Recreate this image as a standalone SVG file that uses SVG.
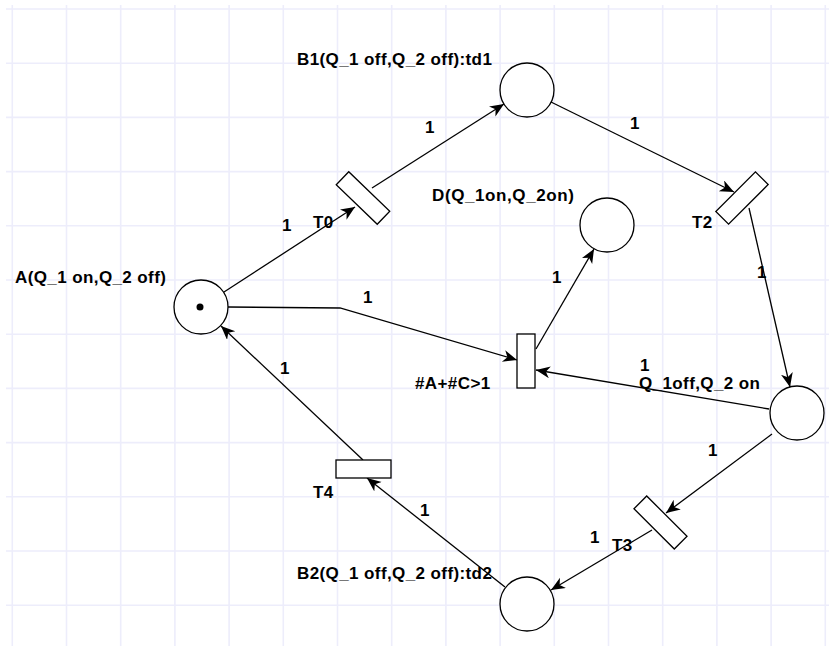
<svg xmlns="http://www.w3.org/2000/svg" width="829" height="646" viewBox="0 0 829 646">
<style>
.grid{stroke:#ededfb;stroke-width:1.6;fill:none}
.node{fill:#fff;stroke:#000;stroke-width:1.3}
.edge{fill:none;stroke:#000;stroke-width:1.3}
text{font-family:"Liberation Sans",Arial,sans-serif;font-weight:bold;font-size:17px;fill:#000;letter-spacing:0.4px}
.w{text-anchor:middle}
</style>
<defs>
<marker id="arr" markerUnits="userSpaceOnUse" markerWidth="16" markerHeight="14" refX="14" refY="6" orient="auto">
<path d="M0,0 L14,6 L0,12 L4,6 Z" fill="#000"/>
</marker>
</defs>
<rect width="829" height="646" fill="#fff"/>
<path class="grid" d="M12.3,5V646M66.5,5V646M120.7,5V646M174.9,5V646M229.1,5V646M283.3,5V646M337.5,5V646M391.7,5V646M445.9,5V646M500.1,5V646M554.3,5V646M608.5,5V646M662.7,5V646M716.9,5V646M771.1,5V646M825.3,5V646M6,9H829M6,63.2H829M6,117.4H829M6,171.6H829M6,225.8H829M6,280H829M6,334.2H829M6,388.4H829M6,442.6H829M6,496.8H829M6,551H829M6,605.2H829"/>
<g id="connectors">
<path class="edge" marker-end="url(#arr)" d="M224,292 L355,207"/>
<path class="edge" marker-end="url(#arr)" d="M372,188 L504,104"/>
<path class="edge" marker-end="url(#arr)" d="M551,102 L734,192"/>
<path class="edge" marker-end="url(#arr)" d="M749,208 L790,387"/>
<path class="edge" marker-end="url(#arr)" d="M228,307 L340,308 L517,360"/>
<path class="edge" marker-end="url(#arr)" d="M536,349 L594,249"/>
<path class="edge" marker-end="url(#arr)" d="M769,409 L536,370"/>
<path class="edge" marker-end="url(#arr)" d="M772,434 L666,513"/>
<path class="edge" marker-end="url(#arr)" d="M652,530 L551,590"/>
<path class="edge" marker-end="url(#arr)" d="M505,587 L367,478"/>
<path class="edge" marker-end="url(#arr)" d="M363,460 L221,326"/>
<text class="w" x="287" y="231">1</text>
<text class="w" x="430" y="133">1</text>
<text class="w" x="635" y="129">1</text>
<text class="w" x="762" y="278">1</text>
<text class="w" x="368" y="303">1</text>
<text class="w" x="557" y="283">1</text>
<text class="w" x="645" y="371">1</text>
<text class="w" x="713" y="456">1</text>
<text class="w" x="595" y="543">1</text>
<text class="w" x="425" y="516">1</text>
<text class="w" x="285" y="374">1</text>
</g>
<g id="A">
<circle class="node" cx="201" cy="307" r="27"/>
<circle cx="200" cy="307" r="3.5" fill="#000"/>
<text x="15" y="283">A(Q_1 on,Q_2 off)</text>
</g>
<g id="B1">
<circle class="node" cx="527" cy="90" r="27"/>
<text x="297" y="65">B1(Q_1 off,Q_2 off):td1</text>
</g>
<g id="D">
<circle class="node" cx="607" cy="225" r="27"/>
<text x="432" y="201" style="letter-spacing:0.6px">D(Q_1on,Q_2on)</text>
</g>
<g id="C">
<circle class="node" cx="797" cy="413" r="27"/>
<text x="639" y="389">Q_1off,Q_2 on</text>
</g>
<g id="B2">
<circle class="node" cx="527" cy="604" r="27"/>
<text x="297" y="579">B2(Q_1 off,Q_2 off):td2</text>
</g>
<g id="T0">
<rect class="node" x="-28.5" y="-9" width="57" height="18" transform="translate(363,198) rotate(44)"/>
<text x="313" y="228">T0</text>
</g>
<g id="T2">
<rect class="node" x="-28" y="-9" width="56" height="18" transform="translate(742,198) rotate(-45)"/>
<text x="692" y="228">T2</text>
</g>
<g id="Tc">
<rect class="node" x="517" y="334" width="18" height="54"/>
<text x="415" y="389">#A+#C&gt;1</text>
</g>
<g id="T3">
<rect class="node" x="-28.5" y="-9" width="57" height="18" transform="translate(660.5,522.5) rotate(45)"/>
<text x="612" y="551">T3</text>
</g>
<g id="T4">
<rect class="node" x="336" y="460" width="55" height="18"/>
<text x="313" y="498">T4</text>
</g>
</svg>
